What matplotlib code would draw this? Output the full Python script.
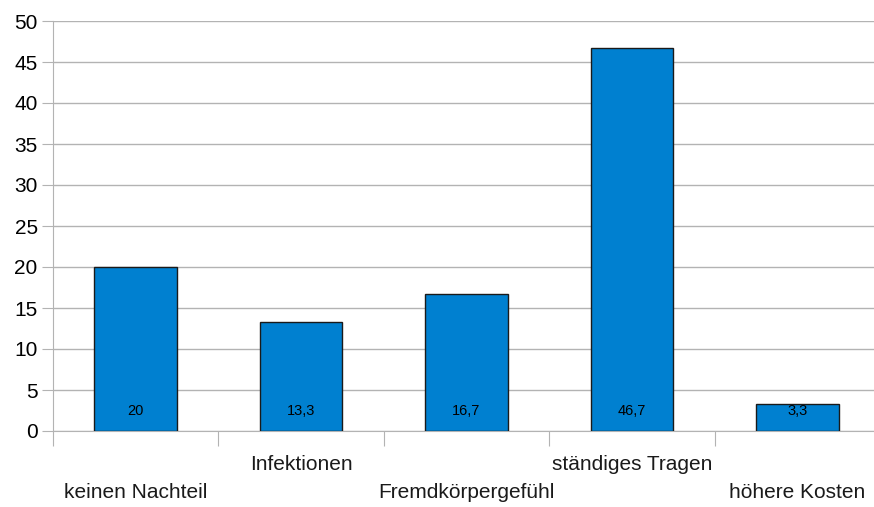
import numpy as np
import matplotlib.pyplot as plt
import matplotlib.transforms as mtransforms

plt.rcParams['font.family'] = ['Liberation Sans', 'DejaVu Sans']

categories = ["keinen Nachteil", "Infektionen", "Fremdkörpergefühl",
              "ständiges Tragen", "höhere Kosten"]
values = [20, 13.3, 16.7, 46.7, 3.3]
value_labels = ["20", "13,3", "16,7", "46,7", "3,3"]

fig = plt.figure(figsize=(8.74, 5.07), dpi=100)
ax = fig.add_axes([53 / 874, 76 / 507, 827 / 874, 410 / 507])

x = np.arange(len(categories))
ax.bar(x, values, width=0.5, color="#0080d0", edgecolor="#1a1a1a",
       linewidth=1, zorder=3)

for xi, lab in zip(x, value_labels):
    ax.text(xi, 2.45, lab, ha="center", va="center", fontsize=10.5,
            color="black", zorder=4)

ax.set_xlim(-0.5, len(categories) - 0.5)
ax.set_ylim(0, 50)
ax.set_yticks(np.arange(0, 51, 5))
ax.yaxis.grid(True, color="#b3b3b3", linewidth=1, zorder=0)
ax.tick_params(axis="y", length=8, color="#b3b3b3", labelsize=15, pad=3)

ax.set_xticks(np.arange(-0.5, len(categories) - 0.4, 1))
ax.set_xticklabels([])
ax.tick_params(axis="x", length=11, color="#b3b3b3", direction="out")

for s in ["top", "right"]:
    ax.spines[s].set_visible(False)
for s in ["left", "bottom"]:
    ax.spines[s].set_color("#b3b3b3")

trans = mtransforms.blended_transform_factory(ax.transData, ax.transAxes)
for i, cat in enumerate(categories):
    yy = -0.149 if i % 2 == 0 else -0.0805
    ax.text(i, yy, cat, transform=trans, ha="center", va="center",
            fontsize=15, color="#1a1a1a")

fig.savefig("out.png", dpi=100)
